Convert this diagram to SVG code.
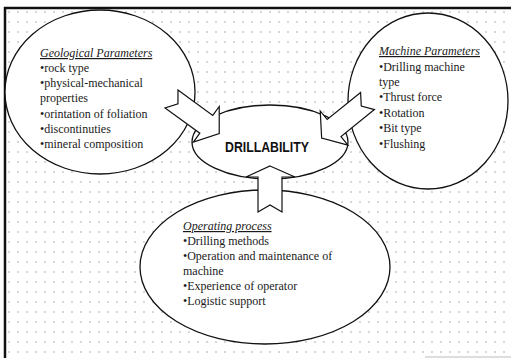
<svg xmlns="http://www.w3.org/2000/svg" width="511" height="358" viewBox="0 0 511 358">
<defs>
<pattern id="dots" x="5" y="8" width="9" height="10" patternUnits="userSpaceOnUse">
<circle cx="4" cy="4" r="0.75" fill="#9a9a9a"/>
</pattern>
<style>
.ell{fill:#fff;stroke:#111;stroke-width:1.3}
.arr{fill:#fff;stroke:#111;stroke-width:1.2;stroke-linejoin:miter}
.t{font-family:"Liberation Serif","Times New Roman",serif;font-size:12px;fill:#1a1a1a}
.h{font-style:italic;text-decoration:underline}
.big{font-family:"Liberation Sans",Arial,sans-serif;font-weight:bold;font-size:15px;fill:#111}
</style>
</defs>
<rect x="0" y="0" width="511" height="358" fill="#fff"/>
<rect x="5" y="8" width="506" height="350" fill="url(#dots)"/>
<line x1="4" y1="8" x2="511" y2="8" stroke="#111" stroke-width="2.5"/>
<line x1="5" y1="7" x2="5" y2="358" stroke="#111" stroke-width="2.5"/>
<line x1="425" y1="357" x2="511" y2="357" stroke="#bbb" stroke-width="1"/>

<g id="geological">
<ellipse class="ell" cx="100" cy="92" rx="95" ry="82"/>
<text class="t h" x="40" y="57">Geological Parameters</text>
<text class="t" x="40" y="72">•rock type</text>
<text class="t" x="40" y="87">•physical-mechanical</text>
<text class="t" x="40" y="102">properties</text>
<text class="t" x="40" y="118">•orintation of foliation</text>
<text class="t" x="40" y="133">•discontinuties</text>
<text class="t" x="40" y="148">•mineral composition</text>
</g>

<g id="machine">
<ellipse class="ell" cx="428" cy="101" rx="80" ry="88"/>
<text class="t h" x="379" y="55">Machine Parameters</text>
<text class="t" x="379" y="71">•Drilling machine</text>
<text class="t" x="379" y="86">type</text>
<text class="t" x="379" y="101">•Thrust force</text>
<text class="t" x="379" y="117">•Rotation</text>
<text class="t" x="379" y="132">•Bit type</text>
<text class="t" x="379" y="148">•Flushing</text>
</g>

<g id="operating">
<ellipse class="ell" cx="265" cy="267" rx="125" ry="77"/>
<text class="t h" x="183" y="230">Operating process</text>
<text class="t" x="183" y="245">•Drilling methods</text>
<text class="t" x="183" y="260">•Operation and maintenance of</text>
<text class="t" x="183" y="275">machine</text>
<text class="t" x="183" y="290">•Experience of operator</text>
<text class="t" x="183" y="305">•Logistic support</text>
</g>

<g id="drillability">
<ellipse class="ell" cx="270" cy="142" rx="78" ry="37"/>
<text class="big" x="225" y="152" textLength="84" lengthAdjust="spacingAndGlyphs">DRILLABILITY</text>
</g>

<g id="connectors">
<polygon class="arr" transform="translate(171.5,99) rotate(36)" points="0,-11 43,-11 43,-22 59,0 43,22 43,11 0,11 8,0"/>
<polygon class="arr" transform="translate(367.5,101) rotate(141)" points="0,-11 43,-11 43,-22 59,0 43,22 43,11 0,11 8,0"/>
<polygon class="arr" points="270,166 295,177 282,177 282,212 270,205 258,212 258,177 246,177"/>
</g>
</svg>
